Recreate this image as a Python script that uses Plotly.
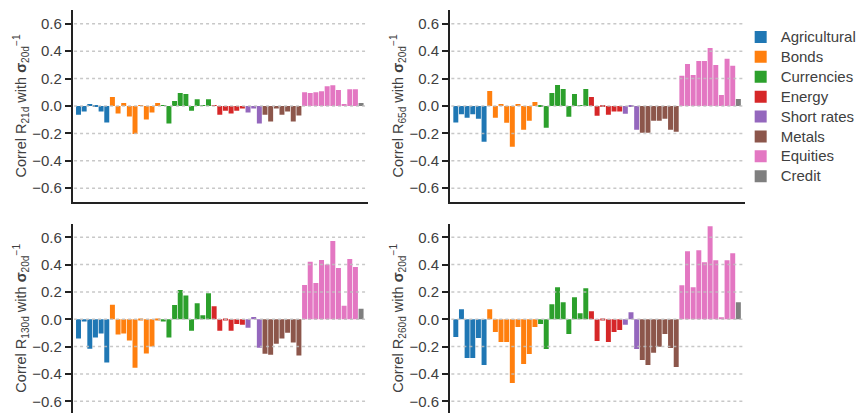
import plotly.graph_objects as go

# Asset-class sectors, in the order the bars are laid out along the x axis
sector_names = ["Agricultural", "Bonds", "Currencies", "Energy",
                "Short rates", "Metals", "Equities", "Credit"]
sector_sizes = [6, 9, 9, 6, 3, 7, 10, 1]
sector_colors = ["#1f77b4", "#ff7f0e", "#2ca02c", "#d62728",
                 "#9467bd", "#8c564b", "#e377c2", "#7f7f7f"]

# Correlation of forward returns (various horizons) with inverse 20d vol, per instrument
corr_21d = [
    -0.063, -0.041, 0.014, -0.005, -0.041, -0.120,
    0.065, -0.055, 0.022, -0.077, -0.205, 0.003, -0.099, -0.048, 0.022,
    0.003, -0.128, 0.036, 0.094, 0.087, -0.034, 0.050, 0.005, 0.050,
    0.003, -0.063, -0.034, -0.055, -0.034, -0.019,
    -0.048, -0.019, -0.128,
    -0.063, -0.113, -0.019, -0.063, -0.041, -0.113, -0.070,
    0.101, 0.094, 0.101, 0.108, 0.145, 0.152, 0.116, 0.007, 0.123, 0.123,
    0.022,
]
corr_65d = [
    -0.120, -0.061, -0.085, -0.061, -0.093, -0.261,
    0.110, -0.085, 0.007, -0.122, -0.298, 0.007, -0.173, -0.107, 0.029,
    -0.005, -0.159, 0.095, 0.154, 0.124, -0.078, 0.088, 0.003, 0.124,
    0.066, -0.071, -0.005, -0.063, -0.041, -0.041,
    -0.056, -0.003, -0.173,
    -0.195, -0.195, -0.107, -0.107, -0.093, -0.173, -0.188,
    0.220, 0.307, 0.227, 0.329, 0.329, 0.424, 0.300, 0.080, 0.344, 0.293,
    0.051,
]
corr_130d = [
    -0.141, -0.017, -0.215, -0.134, -0.105, -0.317,
    0.107, -0.112, -0.105, -0.156, -0.354, -0.010, -0.251, -0.200, -0.005,
    -0.017, -0.134, 0.105, 0.215, 0.173, -0.084, 0.118, 0.030, 0.191,
    0.096, -0.084, -0.005, -0.084, -0.034, -0.040,
    -0.062, 0.016, -0.208,
    -0.252, -0.260, -0.179, -0.141, -0.098, -0.171, -0.266,
    0.251, 0.420, 0.266, 0.434, 0.400, 0.573, 0.376, 0.098, 0.441, 0.383,
    0.076,
]
corr_260d = [
    -0.129, 0.073, -0.283, -0.283, -0.137, -0.334,
    0.073, -0.093, -0.166, -0.166, -0.466, -0.056, -0.327, -0.254, -0.056,
    -0.034, -0.217, 0.110, 0.234, 0.124, -0.107, 0.161, 0.044, 0.227,
    0.059, -0.159, -0.005, -0.166, -0.093, -0.078,
    -0.041, 0.051, -0.217,
    -0.298, -0.334, -0.246, -0.202, -0.107, -0.210, -0.349,
    0.249, 0.498, 0.234, 0.505, 0.417, 0.680, 0.432, 0.015, 0.432, 0.483,
    0.124,
]

horizons = ["21d", "65d", "130d", "260d"]
panel_values = [corr_21d, corr_65d, corr_130d, corr_260d]
y_ticks = [-0.6, -0.4, -0.2, 0.0, 0.2, 0.4, 0.6]

W, H = 862, 413
FONT = "Liberation Sans, Arial, Helvetica, sans-serif"
TEXT_COLOR = "#404040"
AXIS_COLOR = "#222222"

# Subplot geometry (pixels -> paper fractions)
x_domains = [(73 / W, 370 / W), (452.5 / W, 749.5 / W)]
y_domains = [(1 - 201.9 / H, 1 - 10.1 / H), (0.0, 1 - 223.6 / H)]
y_ranges = [(-0.7, 0.7), (-0.686, 0.7)]

fig = go.Figure()

n_bars = sum(sector_sizes)
for k, (hz, vals) in enumerate(zip(horizons, panel_values)):
    suffix = "" if k == 0 else str(k + 1)
    start = 0
    for name, size, color in zip(sector_names, sector_sizes, sector_colors):
        idx = list(range(start, start + size))
        fig.add_trace(go.Bar(
            x=idx,
            y=vals[start:start + size],
            xaxis="x" + suffix,
            yaxis="y" + suffix,
            name=f'<span style="font-size:15px">{name}</span>',
            legendgroup=name,
            showlegend=(k == 0),
            marker=dict(color=color, line=dict(width=0)),
            hoverinfo="x+y",
        ))
        start += size

    row, col = divmod(k, 2)
    fig.layout["xaxis" + suffix] = dict(
        domain=x_domains[col],
        anchor="y" + suffix,
        range=[-1.05, n_bars + 0.2],
        showticklabels=False,
        ticks="",
        showgrid=False,
        zeroline=False,
        showline=(row == 0),
        linecolor=AXIS_COLOR,
        linewidth=1.5,
    )
    fig.layout["yaxis" + suffix] = dict(
        domain=y_domains[row],
        anchor="x" + suffix,
        range=list(y_ranges[row]),
        tickvals=y_ticks,
        tickformat=".1f",
        ticks="outside",
        ticklen=6,
        tickwidth=1.5,
        tickcolor=AXIS_COLOR,
        tickfont=dict(family=FONT, size=15, color=TEXT_COLOR),
        showgrid=False,
        zeroline=False,
        showline=True,
        linecolor=AXIS_COLOR,
        linewidth=1.5,
        title=dict(
            text=f"Correl R<sub>{hz}</sub> with <b>σ</b><sub>20d</sub><sup>−1</sup>",
            font=dict(family=FONT, size=14.5, color=TEXT_COLOR),
            standoff=2,
        ),
    )

    # Dotted horizontal reference lines drawn over the bars
    for v in y_ticks:
        fig.add_shape(
            type="line",
            xref=f"x{suffix} domain", x0=0.005, x1=1,
            yref="y" + suffix, y0=v, y1=v,
            line=dict(color="rgba(190,190,190,0.85)", width=1.5, dash="dot"),
            layer="above",
        )

fig.update_layout(
    width=W,
    height=H,
    margin=dict(l=0, r=0, t=0, b=0),
    paper_bgcolor="white",
    plot_bgcolor="white",
    barmode="overlay",
    bargap=0.12,
    font=dict(family=FONT, color=TEXT_COLOR),
    showlegend=True,
    legend=dict(
        x=745 / W, xanchor="left",
        y=1 - 22 / H, yanchor="top",
        font=dict(family=FONT, size=13, color=TEXT_COLOR),
        bgcolor="rgba(0,0,0,0)",
        borderwidth=0,
        itemwidth=30,
        traceorder="normal",
    ),
)

fig.write_html("out.html")
